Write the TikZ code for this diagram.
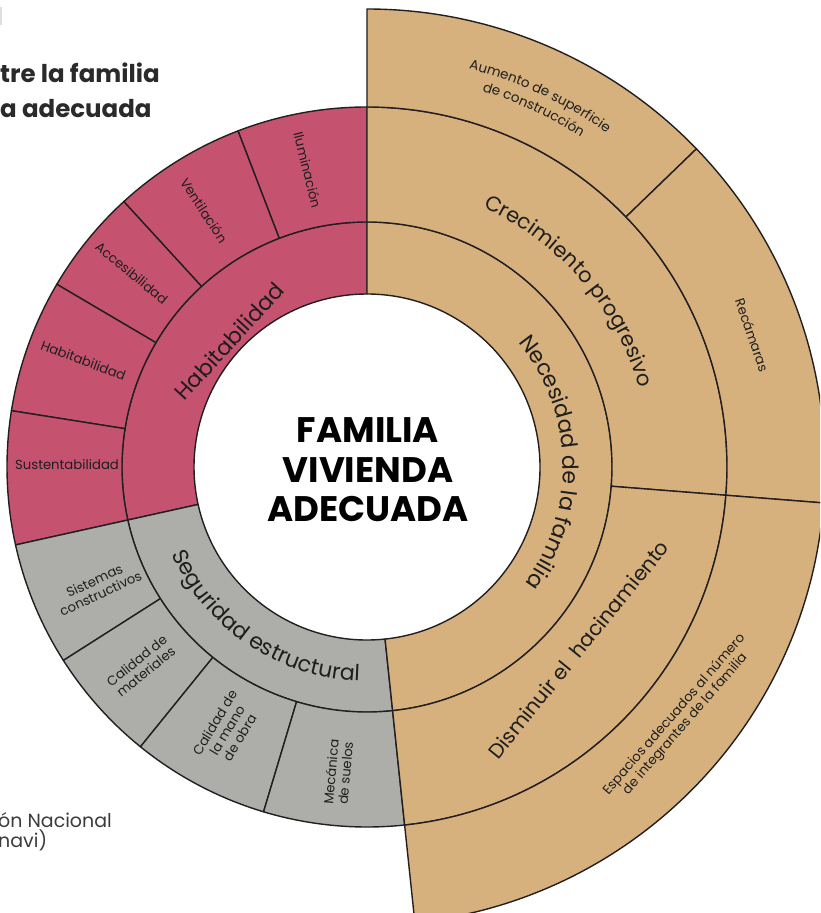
\documentclass[tikz,border=0pt]{standalone}
\usepackage{fontspec}
\setmainfont{Poppins}
\usetikzlibrary{decorations.text}
\definecolor{pinkc}{HTML}{C5536F}
\definecolor{tanc}{HTML}{D6B17D}
\definecolor{grayc}{HTML}{ADAEAA}
\definecolor{linec}{HTML}{231F20}
\definecolor{txt}{HTML}{1E1E1E}
\definecolor{sidetxt}{HTML}{2A2A2A}
\definecolor{srctxt}{HTML}{3C3C3C}
\newcommand{\annseg}[5]{\filldraw[#5] (#1:#3pt) arc[start angle=#1, end angle=#2, radius=#3pt] -- (#2:#4pt) arc[start angle=#2, end angle=#1, radius=#4pt] -- cycle;}
\newcommand{\arctext}[6]{\path[decorate, decoration={text along path, text align=center, text={|\fontsize{#4}{#4}\selectfont\color{txt}|#5}}] (#1:#3pt) arc[start angle=#1, end angle=#2, radius=#3pt];}
\tikzset{
  seg/.style={draw=linec, line width=1.4pt},
  ringlab/.style={font=\fontsize{21}{24}\selectfont, text=txt, inner sep=0pt},
  leaflab/.style={font=\fontsize{13.2}{14.5}\selectfont, text=txt, inner sep=0pt, align=center},
}
\begin{document}
\begin{tikzpicture}[x=1pt,y=1pt,line join=round]
\clip (-367,-446) rectangle (453,467);
\fill[white] (-367,-446) rectangle (453,467);
% side texts (cropped from source)
\fill[gray!25] (-367,460) rectangle (-364.5,442);
\node[anchor=base west, inner sep=0pt, font=\bfseries\fontsize{24.5}{24}\selectfont, text=sidetxt] (side1) at (-367,384) {tre la familia};
\node[anchor=base west, inner sep=0pt, font=\bfseries\fontsize{24.5}{24}\selectfont, text=sidetxt] (side2) at (-367,349) {a adecuada};
\node[anchor=base west, inner sep=0pt, font=\fontsize{19}{19}\selectfont, text=srctxt] (src1) at (-369,-360) {ón Nacional};
\node[anchor=base west, inner sep=0pt, font=\fontsize{19}{19}\selectfont, text=srctxt] (src2) at (-369,-380) {navi)};
% pink
\annseg{90}{192.5}{173}{245}{seg, fill=pinkc}
\annseg{90}{111}{245}{360}{seg, fill=pinkc}
\annseg{111}{132.5}{245}{360}{seg, fill=pinkc}
\annseg{132.5}{149.5}{245}{360}{seg, fill=pinkc}
\annseg{149.5}{171}{245}{360}{seg, fill=pinkc}
\annseg{171}{192.5}{245}{360}{seg, fill=pinkc}
% gray
\annseg{192.5}{276}{173}{245}{seg, fill=grayc}
\annseg{192.5}{212.5}{245}{360}{seg, fill=grayc}
\annseg{212.5}{231}{245}{360}{seg, fill=grayc}
\annseg{231}{253.3}{245}{360}{seg, fill=grayc}
\annseg{253.3}{276}{245}{360}{seg, fill=grayc}
% tan
\annseg{-84}{90}{173}{245}{seg, fill=tanc}
\annseg{-4.5}{90}{245}{360}{seg, fill=tanc}
\annseg{-84}{-4.5}{245}{360}{seg, fill=tanc}
\annseg{44}{90}{360}{458}{seg, fill=tanc}
\annseg{-4.5}{44}{360}{458}{seg, fill=tanc}
\annseg{-84}{-4.5}{360}{458}{seg, fill=tanc}
% centre
\node[font=\bfseries\fontsize{35.5}{39.5}\selectfont, align=center, text=black, inner sep=0pt] (centre) at (1,-3) {FAMILIA\\VIVIENDA\\ADECUADA};
% ring labels
\arctext{81.5}{-78.5}{196}{22}{Necesidad de la familia}{}
\arctext{121}{-39}{284}{21}{Crecimiento progresivo}{}
\arctext{156}{316}{214}{22}{Seguridad estructural}{}
\node[ringlab, font=\fontsize{22}{24}\selectfont, rotate=47.5] (habit) at (137.6:187) {Habitabilidad};
\node[ringlab, font=\fontsize{20.5}{24}\selectfont, rotate=51] (dismi) at (-40.8:279) {Disminuir el\ \ hacinamiento};
% tan leaves
\arctext{125}{5}{411}{13.5}{Aumento de superficie}{}
\arctext{125}{5}{393}{13.5}{de construcción}{}
\node[leaflab, rotate=-71] (recam) at (18.9:407) {Recámaras};
\node[leaflab, rotate=49] (espac) at (-38.9:402) {Espacios adecuados al número\\de integrantes de la familia};
% pink leaves
\node[leaflab, rotate=-76] (ilum) at (101.3:303) {Iluminación};
\node[leaflab, rotate=-57] (vent) at (122.4:304) {Ventilación};
\node[leaflab, rotate=-39.5] (acce) at (140.5:305) {Accesibilidad};
\node[leaflab, rotate=-20.6] (habl) at (159.4:303) {Habitabilidad};
\node[leaflab, rotate=0] (sust) at (179.6:300) {Sustentabilidad};
% gray leaves
\node[leaflab, rotate=25] (sist) at (204:295) {Sistemas\\constructivos};
\node[leaflab, rotate=39] (calm) at (221.4:301) {Calidad de\\materiales};
\node[leaflab, rotate=59] (calo) at (242:298) {Calidad de\\la mano\\de obra};
\node[leaflab, rotate=85] (meca) at (264.6:307) {Mecánica\\de suelos};
\end{tikzpicture}
\end{document}
